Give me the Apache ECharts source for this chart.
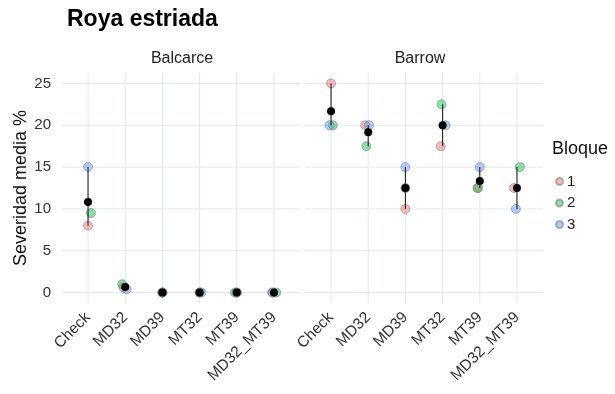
<!DOCTYPE html>
<html><head><meta charset="utf-8">
<script src="https://cdn.jsdelivr.net/npm/echarts@6/dist/echarts.min.js"></script>
<style>html,body{margin:0;padding:0;background:#fff}#c{width:615px;height:394px}</style>
</head><body><div id="c"></div>
<script>
const categories = ['Check','MD32','MD39','MT32','MT39','MD32_MT39'];
const sites = ['Balcarce','Barrow'];
const bloques = ['1','2','3'];
const yTicks = [0,5,10,15,20,25];
// Severidad media % per bloque
const balcarce1 = [8, 0.6, 0, 0, 0, 0];
const balcarce2 = [9.5, 1, 0, 0, 0, 0];
const balcarce3 = [15, 0.4, 0, 0, 0, 0];
const barrow1 = [25, 20, 10, 17.5, 12.5, 12.5];
const barrow2 = [20, 17.5, 12.5, 22.5, 12.5, 15];
const barrow3 = [20, 20, 15, 20, 15, 10];
// horizontal jitter (category units)
const jitBalcarce1 = [0, -0.05, 0, 0, 0, -0.05];
const jitBalcarce2 = [0.08, -0.08, 0, 0, -0.05, 0.06];
const jitBalcarce3 = [0, 0.04, 0, 0.05, 0, -0.03];
const jitBarrow1 = [0, -0.08, 0, -0.05, -0.05, -0.08];
const jitBarrow2 = [0.05, -0.05, 0, -0.03, -0.06, 0.08];
const jitBarrow3 = [-0.04, 0.02, 0, 0.08, 0, -0.03];

const colors = ['rgba(248,118,109,0.5)','rgba(0,186,56,0.45)','rgba(97,156,255,0.5)'];
const FONT = '"Liberation Sans", Arial, sans-serif';
const XMIN = -0.7, XMAX = 5.7, YMIN = -1.25, YMAX = 26.25;
const GRID = '#dfe9f1';

const siteData = [
  {vals:[balcarce1,balcarce2,balcarce3], jit:[jitBalcarce1,jitBalcarce2,jitBalcarce3]},
  {vals:[barrow1,barrow2,barrow3], jit:[jitBarrow1,jitBarrow2,jitBarrow3]}
];

const grids = [
  {left:62, top:73, width:238, height:230},
  {left:305, top:73, width:238, height:230}
];
const catIdx = categories.map((c,i)=>i);
const xAxis = [], yAxis = [], series = [];
sites.forEach((s, g) => {
  xAxis.push({type:'value', gridIndex:g, min:XMIN, max:XMAX,
    axisLine:{show:false}, axisTick:{show:false}, splitLine:{show:false},
    axisLabel:{customValues:catIdx, rotate:45, color:'#333', fontSize:15.5, fontFamily:FONT, margin:12,
      formatter:(v)=>categories[Math.round(v)]}});
  yAxis.push({type:'value', gridIndex:g, min:YMIN, max:YMAX,
    axisLine:{show:false}, axisTick:{show:false}, splitLine:{show:false},
    axisLabel:{show:g===0, customValues:yTicks, color:'#333', fontSize:15, fontFamily:FONT, margin:11},
    name: g===0 ? 'Severidad media %' : '', nameLocation:'middle', nameRotate:90, nameGap:32,
    nameTextStyle:{fontSize:18, color:'#111', fontFamily:FONT}});
  // panel grid lines
  series.push({type:'custom', xAxisIndex:g, yAxisIndex:g, silent:true, z:0,
    data: yTicks.map(v=>[v]),
    renderItem:(p, api)=>{
      const a = api.coord([XMIN, api.value(0)]);
      const b = api.coord([XMAX, api.value(0)]);
      return {type:'line', shape:{x1:a[0],y1:a[1],x2:b[0],y2:b[1]}, style:{stroke:GRID, lineWidth:1}};
    }});
  series.push({type:'custom', xAxisIndex:g, yAxisIndex:g, silent:true, z:0,
    data: catIdx.map(v=>[v]),
    renderItem:(p, api)=>{
      const a = api.coord([api.value(0), YMIN]);
      const b = api.coord([api.value(0), YMAX]);
      return {type:'line', shape:{x1:a[0],y1:a[1],x2:b[0],y2:b[1]}, style:{stroke:GRID, lineWidth:1}};
    }});
  const sd = siteData[g];
  bloques.forEach((b, k) => {
    series.push({type:'scatter', name:b, xAxisIndex:g, yAxisIndex:g, z:2,
      symbolSize:9,
      itemStyle:{color:colors[k], borderColor:'rgba(110,110,110,0.5)', borderWidth:1, opacity:1},
      data: sd.vals[k].map((v,i)=>[i+sd.jit[k][i], v])});
  });
  const mins = catIdx.map(i=>Math.min(...sd.vals.map(a=>a[i])));
  const maxs = catIdx.map(i=>Math.max(...sd.vals.map(a=>a[i])));
  const means = catIdx.map(i=>sd.vals.reduce((t,a)=>t+a[i],0)/3);
  series.push({type:'custom', xAxisIndex:g, yAxisIndex:g, z:3, silent:true,
    data: catIdx.map(i=>[i, mins[i], maxs[i]]),
    renderItem:(p, api)=>{
      const a = api.coord([api.value(0), api.value(1)]);
      const b = api.coord([api.value(0), api.value(2)]);
      return {type:'line', shape:{x1:a[0],y1:a[1],x2:b[0],y2:b[1]}, style:{stroke:'#222', lineWidth:1.1}};
    }});
  series.push({type:'scatter', xAxisIndex:g, yAxisIndex:g, z:4, symbolSize:8,
    itemStyle:{color:'#000', opacity:1}, data: means.map((m,i)=>[i,m])});
});

const chart = echarts.init(document.getElementById('c'), null, {renderer:'canvas'});
chart.setOption({
  animation:false,
  backgroundColor:'#fff',
  textStyle:{fontFamily:FONT},
  title:[
    {text:'Roya estriada', left:67, top:8, padding:0, textStyle:{fontSize:23, fontWeight:'bold', color:'#000', fontFamily:FONT}},
    {text:sites[0], left:182, top:51, padding:0, textAlign:'center', textStyle:{fontSize:16, fontWeight:'normal', color:'#222', fontFamily:FONT}},
    {text:sites[1], left:420, top:51, padding:0, textAlign:'center', textStyle:{fontSize:16, fontWeight:'normal', color:'#222', fontFamily:FONT}},
    {text:'Bloque', left:552, top:140, padding:0, textStyle:{fontSize:18, fontWeight:'normal', color:'#111', fontFamily:FONT}}
  ],
  legend:{orient:'vertical', left:555, top:174, padding:0, itemGap:6.5, itemWidth:7, itemHeight:7,
    icon:'circle', data:bloques,
    textStyle:{fontSize:15, lineHeight:15, color:'#222', fontFamily:FONT, padding:[0,0,0,-1]}},
  grid:grids,
  xAxis:xAxis,
  yAxis:yAxis,
  series:series
});
</script></body></html>
